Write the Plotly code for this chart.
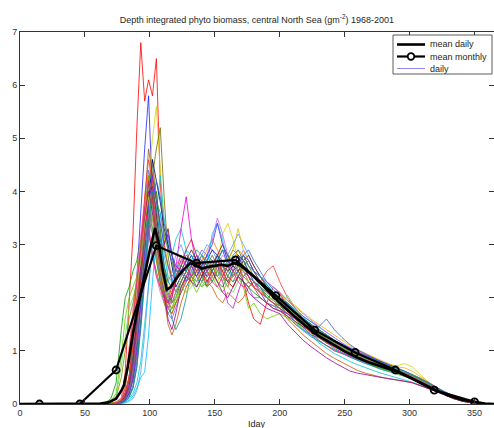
import plotly.graph_objects as go

# shared day grid for the yearly (daily) series
days = [0, 50, 60, 66, 70, 74, 78, 81, 84, 87,
        90, 93, 96, 99, 102, 105, 108, 111, 114, 117,
        120, 124, 128, 132, 136, 140, 144, 148, 152, 156,
        160, 164, 168, 172, 176, 180, 185, 190, 195, 200,
        206, 212, 218, 224, 230, 236, 242, 248, 254, 260,
        266, 272, 278, 284, 290, 296, 302, 308, 314, 320,
        327, 334, 341, 348, 355, 365]

y01 = [0,0,0,0,0,0.02,0.1,0.6,1.9,3.2,5.2, 6.8,5.7,6.1,5.8,6.5,4.2,3.0,2.6,2.4,2.5, 2.8,2.6,2.4,2.7,2.5,2.2,2.6,2.8,2.4,2.2,2.5,2.7,2.3,1.9,1.6,1.5,1.9,2.2,2.1, 1.8,1.6,1.5,1.35,1.2,1.1,1.0,0.95,0.9,0.85,0.8,0.75,0.7,0.66,0.6,0.55,0.48,0.4,0.33,0.26,0.18,0.11,0.06,0.03,0.01,0]
y02 = [0,0,0,0,0.01,0.03,0.08,0.2,0.5,1.2,2.5, 3.6,4.8,5.8,3.9,2.8,2.3,2.0,1.9,2.1,2.3, 2.5,2.3,2.6,2.8,2.6,2.4,2.5,2.7,2.9,2.6,2.4,2.5,2.6,2.4,2.2,2.1,1.9,1.8,1.75, 1.7,1.55,1.45,1.3,1.25,1.15,1.1,1.0,0.92,0.86,0.8,0.74,0.7,0.65,0.6,0.56,0.5,0.44,0.37,0.3,0.22,0.14,0.08,0.04,0.01,0]
y03 = [0,0,0,0,0,0.02,0.05,0.1,0.25,0.6,1.2, 2.0,3.1,4.2,5.0,5.6,4.4,3.2,2.4,1.9,2.0, 2.2,2.4,2.3,2.6,2.8,2.7,2.5,2.6,3.2,3.4,3.1,2.7,2.5,2.4,2.3,2.2,2.1,2.0,1.95, 1.85,1.7,1.6,1.5,1.4,1.3,1.2,1.1,1.0,0.95,0.9,0.85,0.8,0.75,0.72,0.76,0.7,0.55,0.42,0.3,0.2,0.12,0.07,0.03,0.01,0]
y04 = [0,0,0,0,0,0.01,0.03,0.08,0.2,0.45,0.9, 1.6,2.5,3.4,4.3,4.8,5.2,3.9,2.8,2.3,2.1, 2.3,2.5,2.7,2.6,2.4,2.6,2.8,2.6,2.5,2.7,2.9,2.8,2.6,2.5,2.4,2.3,2.2,2.05,1.95, 1.8,1.65,1.55,1.45,1.35,1.25,1.15,1.05,0.98,0.9,0.84,0.78,0.72,0.67,0.62,0.57,0.5,0.43,0.35,0.27,0.19,0.12,0.07,0.03,0.01,0]
y05 = [0,0,0,0,0,0,0.02,0.05,0.1,0.2,0.4, 0.8,1.5,2.3,3.0,3.6,4.3,3.5,3.0,2.8,3.1, 3.3,2.9,2.5,2.4,2.6,2.5,2.3,2.5,2.7,2.6,2.4,2.5,2.7,2.6,2.4,2.2,2.0,1.9,1.8, 1.7,1.55,1.4,1.3,1.15,1.05,0.95,0.88,0.8,0.74,0.68,0.63,0.58,0.54,0.5,0.46,0.41,0.36,0.3,0.24,0.17,0.11,0.06,0.03,0.01,0]
y06 = [0,0,0,0,0,0.02,0.06,0.15,0.4,0.9,1.7, 2.6,3.3,3.9,3.5,2.9,2.4,2.0,1.8,2.0,2.6, 3.3,3.9,3.1,2.6,2.4,2.5,2.7,2.6,2.3,1.9,1.8,2.1,2.4,2.5,2.3,2.1,2.0,1.9,1.85, 1.75,1.6,1.5,1.35,1.25,1.15,1.05,0.97,0.9,0.84,0.78,0.73,0.68,0.64,0.6,0.55,0.48,0.41,0.33,0.26,0.18,0.11,0.06,0.03,0.01,0]
y07 = [0,0,0,0.03,0.1,0.4,1.4,2.0,2.2,2.5,2.7, 3.1,3.5,3.2,2.8,2.5,2.2,1.9,1.7,1.8,2.0, 2.2,2.4,2.3,2.5,2.4,2.2,2.3,2.5,2.4,2.3,2.2,2.4,2.3,2.2,2.1,2.0,1.9,1.85,1.8, 1.7,1.6,1.5,1.4,1.3,1.2,1.12,1.05,0.97,0.9,0.84,0.78,0.72,0.66,0.6,0.54,0.47,0.4,0.33,0.25,0.17,0.1,0.05,0.02,0.01,0]
y08 = [0,0,0,0,0.01,0.04,0.12,0.4,1.0,1.7,2.4, 3.0,3.6,4.2,4.6,3.9,3.1,2.5,2.2,2.1,2.3, 2.6,2.8,2.7,2.5,2.7,2.9,3.1,2.9,2.6,2.5,2.7,2.9,2.8,2.6,2.4,2.3,2.1,2.0,1.9, 1.8,1.7,1.6,1.5,1.4,1.3,1.2,1.12,1.05,0.98,0.92,0.86,0.8,0.74,0.68,0.62,0.55,0.47,0.38,0.29,0.2,0.13,0.07,0.03,0.01,0]
y09 = [0,0,0,0,0,0.02,0.07,0.18,0.45,1.0,1.9, 2.9,3.8,4.4,4.0,3.2,2.5,2.0,1.7,1.6,1.8, 2.1,2.3,2.5,2.7,2.9,2.8,2.6,2.4,2.5,2.7,2.6,2.4,2.3,2.2,2.0,2.0,1.9,1.85,1.75, 1.65,1.5,1.4,1.3,1.2,1.1,1.02,0.95,0.88,0.82,0.76,0.71,0.66,0.62,0.58,0.53,0.47,0.4,0.33,0.26,0.18,0.11,0.06,0.03,0.01,0]
y10 = [0,0,0,0,0.01,0.03,0.08,0.2,0.45,0.9,1.6, 2.4,3.0,3.6,3.9,4.0,3.3,2.6,2.1,1.9,2.0, 2.3,2.5,2.4,2.2,2.4,2.6,2.5,2.3,2.2,2.4,2.6,2.5,2.3,2.2,2.3,2.2,2.05,1.95,1.85, 1.7,1.6,1.45,1.4,1.3,1.2,1.1,1.0,0.92,0.85,0.78,0.72,0.67,0.62,0.58,0.54,0.48,0.42,0.35,0.28,0.2,0.12,0.07,0.03,0.01,0]
y11 = [0,0,0,0,0,0,0.01,0.02,0.05,0.1,0.25, 0.6,1.3,2.2,3.0,3.4,3.0,2.6,2.3,2.5,2.8, 3.0,2.7,2.5,2.6,2.8,3.0,2.9,2.7,2.6,2.8,3.0,3.2,3.0,2.8,2.6,2.4,2.3,2.2,2.1, 1.95,1.8,1.65,1.55,1.45,1.35,1.25,1.15,1.05,0.97,0.9,0.84,0.78,0.72,0.66,0.6,0.53,0.46,0.39,0.31,0.22,0.14,0.08,0.04,0.01,0]
y12 = [0,0,0,0,0,0.02,0.06,0.15,0.5,1.2,2.0, 2.7,3.8,4.8,4.3,3.4,2.7,2.2,2.0,2.2,2.4, 2.6,2.5,2.3,2.5,2.7,2.6,2.4,2.5,2.6,2.4,2.3,2.5,2.6,2.7,2.5,2.3,2.2,2.1,2.0, 1.85,1.7,1.55,1.45,1.35,1.25,1.18,1.1,1.02,0.95,0.88,0.82,0.76,0.7,0.64,0.58,0.51,0.44,0.36,0.28,0.19,0.12,0.06,0.03,0.01,0]
y13 = [0,0,0,0,0.01,0.04,0.1,0.4,1.0,1.8,2.4, 3.2,3.8,3.4,2.8,2.4,2.1,1.9,1.8,1.9,2.1, 2.3,2.2,2.4,2.6,2.5,2.3,2.4,2.6,2.8,2.7,2.5,2.4,2.5,2.4,2.2,2.1,2.0,1.9,1.8, 1.72,1.62,1.5,1.38,1.27,1.17,1.08,1.0,0.93,0.87,0.81,0.75,0.7,0.65,0.6,0.55,0.49,0.42,0.35,0.27,0.19,0.12,0.06,0.03,0.01,0]
y14 = [0,0,0,0,0,0.01,0.04,0.1,0.25,0.55,1.1, 1.9,2.7,3.4,3.9,3.5,2.9,2.4,2.0,1.6,1.4, 1.6,2.0,2.5,2.4,2.2,2.3,2.5,2.7,2.6,2.4,2.3,2.4,2.6,2.5,2.3,2.2,2.0,1.9,1.8, 1.65,1.5,1.38,1.27,1.18,1.1,1.02,0.95,0.88,0.82,0.76,0.7,0.65,0.61,0.57,0.52,0.46,0.4,0.33,0.26,0.18,0.11,0.06,0.03,0.01,0]
y15 = [0,0,0,0,0,0.01,0.03,0.08,0.2,0.5,1.1, 2.0,3.0,3.8,4.6,4.2,3.8,3.3,3.0,2.6,2.2, 2.4,2.6,2.8,2.6,2.5,2.7,2.9,2.8,2.6,2.5,2.6,2.8,2.7,2.5,2.4,2.3,2.2,2.1,2.0, 1.9,1.75,1.6,1.5,1.4,1.3,1.2,1.1,1.02,0.95,0.89,0.83,0.77,0.71,0.65,0.6,0.53,0.46,0.38,0.3,0.21,0.13,0.07,0.03,0.01,0]
y16 = [0,0,0,0.01,0.05,0.2,0.9,1.6,2.0,2.2,2.4, 2.9,3.4,3.8,3.3,2.7,2.3,2.0,1.8,1.7,1.9, 2.2,2.4,2.3,2.1,2.3,2.5,2.4,2.2,2.1,2.3,2.5,2.4,2.2,1.8,1.9,1.7,1.6,1.65,1.7, 1.62,1.52,1.42,1.33,1.24,1.15,1.07,0.99,0.92,0.85,0.79,0.73,0.68,0.63,0.58,0.53,0.47,0.4,0.33,0.25,0.17,0.1,0.05,0.02,0.01,0]
y17 = [0,0,0,0,0,0.02,0.05,0.12,0.3,0.7,1.4, 2.3,3.2,3.9,4.1,3.6,2.9,3.0,3.3,2.8,2.5, 2.5,2.7,2.9,2.7,2.5,2.4,2.6,2.8,3.0,2.8,2.6,2.5,2.7,2.8,2.6,2.4,2.2,2.1,2.0, 1.88,1.72,1.6,1.48,1.37,1.27,1.17,1.08,1.0,0.93,0.87,0.81,0.75,0.69,0.63,0.57,0.5,0.43,0.35,0.27,0.19,0.12,0.06,0.03,0.01,0]
y18 = [0,0,0,0,0,0.01,0.03,0.09,0.22,0.5,1.0, 1.8,2.6,3.3,3.7,3.2,2.6,2.2,2.0,2.3,2.6, 2.8,2.6,2.4,2.3,2.5,2.8,3.1,3.5,3.2,2.8,2.6,2.7,2.9,2.7,2.5,2.4,2.3,2.2,2.1, 1.95,1.82,1.7,1.58,1.46,1.35,1.25,1.15,1.07,1.0,0.93,0.87,0.81,0.75,0.69,0.63,0.56,0.48,0.4,0.31,0.22,0.14,0.08,0.04,0.01,0]
y19 = [0,0,0,0,0.01,0.03,0.08,0.3,0.9,1.7,2.3, 2.9,3.5,3.9,3.6,3.0,2.5,2.1,1.9,1.8,2.0, 2.2,2.1,2.3,2.5,2.7,2.6,2.4,2.3,2.5,2.7,2.9,3.3,2.9,2.7,2.5,2.3,2.2,2.1,2.05, 1.95,1.85,1.72,1.6,1.5,1.4,1.3,1.2,1.1,1.02,0.95,0.88,0.82,0.76,0.7,0.68,0.62,0.52,0.42,0.32,0.22,0.14,0.08,0.04,0.01,0]
y20 = [0,0,0,0,0,0.01,0.03,0.07,0.15,0.35,0.8, 1.5,2.4,3.2,3.8,4.2,3.9,3.4,3.1,2.8,2.3, 2.5,2.4,2.6,2.8,2.7,2.5,2.6,2.8,2.7,2.5,2.4,2.6,2.8,2.9,2.7,2.5,2.3,2.15,2.05, 1.9,1.78,1.65,1.55,1.45,1.6,1.4,1.25,1.12,1.02,0.94,0.87,0.8,0.74,0.68,0.62,0.55,0.47,0.39,0.3,0.21,0.13,0.07,0.03,0.01,0]
y21 = [0,0,0,0,0.01,0.03,0.09,0.22,0.5,1.1,1.9, 2.6,3.1,3.5,3.2,2.7,2.3,2.0,1.5,1.3,1.5, 1.9,2.2,2.4,2.6,2.5,2.3,2.2,2.0,1.9,2.1,2.0,1.9,2.0,2.2,2.3,2.15,2.0,1.9,1.8, 1.6,1.45,1.3,1.18,1.06,0.95,0.86,0.78,0.7,0.63,0.58,0.54,0.5,0.47,0.45,0.43,0.4,0.35,0.3,0.24,0.17,0.1,0.05,0.02,0.01,0]
y22 = [0,0,0,0,0,0.02,0.05,0.13,0.32,0.75,1.5, 2.5,3.4,4.1,4.5,3.8,3.6,3.2,2.9,2.7,2.3, 2.6,2.8,2.7,2.5,2.6,2.8,2.7,2.5,2.4,2.6,2.8,2.9,2.7,2.5,2.4,2.25,2.15,2.05,1.95, 1.82,1.68,1.55,1.45,1.35,1.25,1.15,1.07,1.0,0.93,0.87,0.81,0.75,0.7,0.65,0.59,0.52,0.45,0.37,0.29,0.2,0.12,0.07,0.03,0.01,0]
y23 = [0,0,0,0,0.01,0.03,0.08,0.2,0.5,1.1,2.0, 3.0,3.9,4.6,4.2,3.3,2.6,2.1,1.8,1.7,1.9, 2.1,2.4,2.6,2.5,2.3,2.2,2.4,2.6,2.5,2.3,2.4,2.6,2.5,2.3,2.2,2.3,2.5,2.6,2.3, 2.0,1.8,1.6,1.5,1.4,1.28,1.18,1.08,1.0,0.93,0.87,0.82,0.78,0.72,0.66,0.6,0.53,0.45,0.37,0.28,0.19,0.12,0.06,0.03,0.01,0]
y24 = [0,0,0,0,0,0.01,0.02,0.06,0.14,0.3,0.7, 1.4,2.3,3.1,3.6,3.3,3.1,2.9,2.6,2.3,2.1, 2.3,2.5,2.6,2.4,2.3,2.5,2.7,2.6,2.4,2.3,2.5,2.6,2.5,2.4,2.3,2.2,2.1,2.0,1.9, 1.78,1.64,1.52,1.42,1.32,1.22,1.13,1.05,0.97,0.9,0.84,0.78,0.73,0.68,0.63,0.58,0.51,0.44,0.36,0.28,0.19,0.12,0.06,0.03,0.01,0]
y25 = [0,0,0,0.01,0.04,0.15,0.7,1.3,1.8,2.0,2.3, 2.7,3.2,3.6,3.3,2.8,2.4,2.1,1.9,1.8,2.0, 2.2,2.1,2.2,2.4,2.3,2.2,2.4,2.5,2.4,2.2,2.1,2.3,2.4,2.3,2.2,2.1,2.0,1.9,1.8, 2.05,1.8,1.6,1.5,1.38,1.25,1.15,1.06,0.98,0.91,0.85,0.79,0.74,0.69,0.64,0.59,0.52,0.45,0.37,0.29,0.2,0.12,0.07,0.03,0.01,0]
y26 = [0,0,0,0,0,0.02,0.05,0.14,0.35,0.8,1.6, 2.6,3.5,4.0,3.6,3.0,2.5,2.1,1.6,1.4,1.7, 2.2,2.4,2.3,2.2,2.4,2.6,2.5,2.3,2.1,2.0,2.2,2.4,2.3,2.1,2.0,1.9,1.8,1.75,1.7, 1.5,1.35,1.2,1.08,0.97,0.87,0.78,0.7,0.62,0.58,0.55,0.52,0.5,0.48,0.46,0.43,0.4,0.35,0.3,0.24,0.17,0.1,0.05,0.02,0.01,0]
y27 = [0,0,0,0,0,0,0.01,0.03,0.07,0.15,0.3, 0.5,0.6,1.3,2.3,3.1,3.6,2.8,2.4,2.3,2.5, 2.7,2.9,2.8,2.6,2.5,2.6,3.2,3.4,3.1,2.6,2.5,2.6,2.7,2.6,2.5,2.4,2.25,2.1,2.0, 1.88,1.75,1.62,1.5,1.4,1.3,1.2,1.1,1.02,0.95,0.89,0.83,0.77,0.71,0.66,0.61,0.55,0.48,0.4,0.32,0.23,0.15,0.08,0.04,0.01,0]
y28 = [0,0,0,0.01,0.03,0.12,0.5,1.0,1.6,1.9,2.3, 3.0,3.7,4.3,3.8,3.1,2.6,2.2,1.9,1.8,1.9, 2.1,2.3,2.4,2.3,2.5,2.7,2.6,2.4,2.3,2.5,2.7,2.6,2.4,2.3,2.2,2.1,2.0,1.9,1.85, 1.75,1.63,1.52,1.42,1.32,1.22,1.13,1.05,0.97,0.9,0.84,0.79,0.74,0.69,0.64,0.6,0.54,0.47,0.39,0.3,0.21,0.13,0.07,0.03,0.01,0]
y29 = [0,0,0,0,0,0.01,0.04,0.1,0.25,0.6,1.3, 2.3,3.3,4.2,3.9,3.1,2.5,2.1,1.9,2.0,2.3, 2.6,2.9,3.1,2.8,2.5,2.3,2.5,2.7,2.5,2.3,2.2,2.4,2.6,2.4,2.2,2.0,1.9,1.8,1.75, 1.65,1.55,1.45,1.35,1.25,1.16,1.08,1.01,0.94,0.88,0.82,0.77,0.72,0.67,0.63,0.58,0.51,0.44,0.36,0.28,0.19,0.12,0.06,0.03,0.01,0]
y30 = [0,0,0,0,0,0.01,0.03,0.08,0.2,0.45,1.0, 1.9,2.9,3.7,4.3,3.8,3.4,3.0,3.2,2.8,2.6, 2.5,2.7,2.6,2.4,2.6,2.8,3.0,3.4,3.0,2.7,2.5,2.6,2.8,2.7,2.5,2.3,2.15,2.05,1.95, 1.82,1.7,1.58,1.48,1.38,1.28,1.2,1.12,1.05,0.98,0.92,0.86,0.8,0.74,0.68,0.62,0.56,0.49,0.41,0.32,0.23,0.15,0.08,0.04,0.01,0]
y31 = [0,0,0,0,0.01,0.03,0.09,0.3,0.8,1.5,2.2, 2.7,3.4,3.9,3.5,2.9,2.5,2.2,2.0,1.9,2.1, 2.4,2.6,2.5,2.3,2.2,2.4,2.6,2.5,2.3,2.2,2.4,2.6,2.5,2.3,2.2,2.1,2.0,1.95,1.9, 1.8,1.7,1.6,1.48,1.38,1.28,1.18,1.09,1.01,0.94,0.88,0.82,0.76,0.71,0.66,0.61,0.55,0.48,0.4,0.31,0.21,0.13,0.07,0.03,0.01,0]
y32 = [0,0,0,0,0,0.01,0.04,0.1,0.25,0.6,1.2, 2.1,3.0,3.6,3.3,2.8,2.4,2.1,1.9,1.9,2.1, 2.3,2.5,2.4,2.6,2.8,2.7,2.5,2.4,2.6,2.8,2.7,2.5,2.4,2.5,2.4,2.3,2.15,2.05,1.95, 1.8,1.66,1.54,1.44,1.34,1.24,1.15,1.07,0.99,0.92,0.86,0.8,0.75,0.7,0.65,0.6,0.54,0.47,0.39,0.3,0.21,0.13,0.07,0.03,0.01,0]
y33 = [0,0,0,0,0,0.02,0.06,0.3,0.9,1.6,2.3, 2.9,3.7,3.3,2.8,2.4,2.2,2.0,1.9,2.1,2.4, 2.7,2.6,2.4,2.5,2.7,2.5,2.3,2.2,2.4,2.6,2.5,2.3,2.2,2.3,2.2,2.1,2.0,1.9,1.8, 1.7,1.6,1.48,1.37,1.27,1.18,1.09,1.01,0.94,0.88,0.82,0.77,0.72,0.67,0.62,0.57,0.5,0.43,0.35,0.27,0.18,0.11,0.06,0.03,0.01,0]
y34 = [0,0,0,0,0,0,0.02,0.05,0.12,0.3,0.7, 1.5,2.5,3.4,4.0,3.7,3.1,2.6,2.3,2.2,2.4, 2.6,2.5,2.7,2.9,2.8,2.6,2.5,2.7,2.9,2.8,2.6,2.7,2.8,2.6,2.5,2.4,2.25,2.1,2.0, 1.88,1.74,1.62,1.5,1.4,1.3,1.2,1.12,1.04,0.97,0.9,0.84,0.78,0.72,0.67,0.62,0.55,0.48,0.4,0.31,0.22,0.14,0.08,0.04,0.01,0]

daily_series = [y01, y02, y03, y04, y05, y06, y07, y08, y09, y10, y11, y12,
                y13, y14, y15, y16, y17, y18, y19, y20, y21, y22, y23, y24,
                y25, y26, y27, y28, y29, y30, y31, y32, y33, y34]

daily_colors = ["#ff0000", "#2020ff", "#d4d400", "#6b6b00", "#00c8c8", "#e000e0",
                "#00a000", "#ff8000", "#7b68ee", "#007f00", "#4f9fff", "#a0522d",
                "#ff66cc", "#009999", "#000080", "#66cc00", "#800000", "#cc66ff",
                "#e6b800", "#3366cc", "#cc5500", "#2e8b57", "#ff3333", "#6666aa",
                "#66dd66", "#990099", "#00bfff", "#8b8b00", "#dc143c", "#5a2be2",
                "#9acd32", "#708090", "#ff1493", "#008b8b"]

md_days = [0, 55, 62, 68, 74, 78, 80, 83, 87, 92, 96, 100, 104, 107, 110, 113, 116,
           120, 125, 131, 135, 140, 145, 150, 155, 160, 165, 170, 175, 180, 185,
           190, 195, 200, 210, 220, 230, 240, 250, 260, 270, 280, 290, 300, 310,
           320, 330, 340, 350, 358, 365]
md_vals = [0, 0, 0.01, 0.03, 0.1, 0.25, 0.35, 0.7, 1.33, 1.96, 2.45, 2.9, 3.31, 3.0,
           2.5, 2.15, 2.2, 2.35, 2.5, 2.65, 2.62, 2.55, 2.58, 2.6, 2.62, 2.6, 2.65,
           2.6, 2.5, 2.4, 2.28, 2.15, 2.02, 1.9, 1.68, 1.47, 1.28, 1.13, 0.99, 0.87,
           0.77, 0.69, 0.61, 0.5, 0.38, 0.26, 0.16, 0.08, 0.04, 0.01, 0]

mm_days = [15, 46, 74, 105, 136, 166, 197, 227, 258, 289, 319, 350]
mm_vals = [0, 0, 0.64, 2.98, 2.65, 2.71, 2.04, 1.39, 0.97, 0.64, 0.26, 0.04]

x_ticks = [0, 50, 100, 150, 200, 250, 300, 350]
y_ticks = [0, 1, 2, 3, 4, 5, 6, 7]

legend_labels = ["mean daily", "mean monthly", "daily"]
legend_color_daily = "#7b68ee"
x_label = "Iday"

assert all(len(s) == len(days) for s in daily_series)
assert len(md_days) == len(md_vals)

fig = go.Figure()
for s, c in zip(daily_series, daily_colors):
    fig.add_trace(go.Scatter(x=days, y=s, mode="lines", line=dict(color=c, width=0.8),
                             name="daily", showlegend=False, hoverinfo="skip"))

fig.add_trace(go.Scatter(x=md_days, y=md_vals, mode="lines",
                         line=dict(color="black", width=2.6),
                         name="mean daily", showlegend=False))
fig.add_trace(go.Scatter(x=mm_days, y=mm_vals, mode="lines+markers",
                         line=dict(color="black", width=2.2),
                         marker=dict(symbol="circle-open", size=7, color="black",
                                     line=dict(width=1.8, color="black")),
                         name="mean monthly", showlegend=False))

# ---- legend box (drawn in paper coordinates, MATLAB style) ----
L, R, T, B = 20, 494, 32, 404   # plot area in pixels
W, H = R - L, B - T
def px(x):
    return (x - L) / W
def py(y):
    return (B - y) / H

fig.add_shape(type="rect", xref="paper", yref="paper",
              x0=px(393), x1=px(492), y0=py(74), y1=py(35),
              fillcolor="white", line=dict(color="#333333", width=0.8), layer="above")
rows = [44.5, 56.5, 68.5]
widths = [2.6, 2.2, 0.8]
colors = ["black", "black", legend_color_daily]
for r, w, c, lab in zip(rows, widths, colors, legend_labels):
    fig.add_shape(type="line", xref="paper", yref="paper",
                  x0=px(397), x1=px(425), y0=py(r), y1=py(r),
                  line=dict(color=c, width=w), layer="above")
    fig.add_annotation(text=lab, xref="paper", yref="paper", x=px(428), y=py(r),
                       xanchor="left", yanchor="middle", showarrow=False,
                       font=dict(size=9, color="#262626"))
fig.add_shape(type="circle", xref="paper", yref="paper",
              xsizemode="pixel", ysizemode="pixel",
              xanchor=px(411), yanchor=py(rows[1]), x0=-3.3, x1=3.3, y0=-3.3, y1=3.3,
              fillcolor="white", line=dict(color="black", width=1.8), layer="above")

# x-axis label, low at the bottom edge as in the original
fig.add_annotation(text=x_label, xref="paper", yref="paper", x=0.5, y=py(423.5),
                   xanchor="center", yanchor="middle", showarrow=False,
                   font=dict(size=9, color="#262626"))

axis_common = dict(showline=True, linecolor="#333333", linewidth=1, mirror="ticks",
                   ticks="inside", ticklen=5, tickcolor="#333333", showgrid=False,
                   zeroline=False, automargin=False,
                   tickfont=dict(size=9, color="#333333"))

fig.update_layout(
    width=494, height=428,
    margin=dict(l=L, r=494 - R, t=T, b=428 - B),
    paper_bgcolor="white", plot_bgcolor="white",
    font=dict(family="Liberation Sans, Arial, sans-serif", size=9, color="#262626"),
    title=dict(text="Depth integrated phyto biomass, central North Sea (gm<sup>-2</sup>) 1968-2001",
               x=0.52, xanchor="center", y=1 - 20 / 428, yanchor="middle",
               font=dict(size=9, color="#262626")),
    xaxis=dict(range=[0, 365], tickvals=x_ticks, **axis_common),
    yaxis=dict(range=[0, 7], tickvals=y_ticks, **axis_common),
    showlegend=False,
)

fig.write_html("out.html", config={"displayModeBar": False},
               post_script="document.body.style.margin='0px';")
